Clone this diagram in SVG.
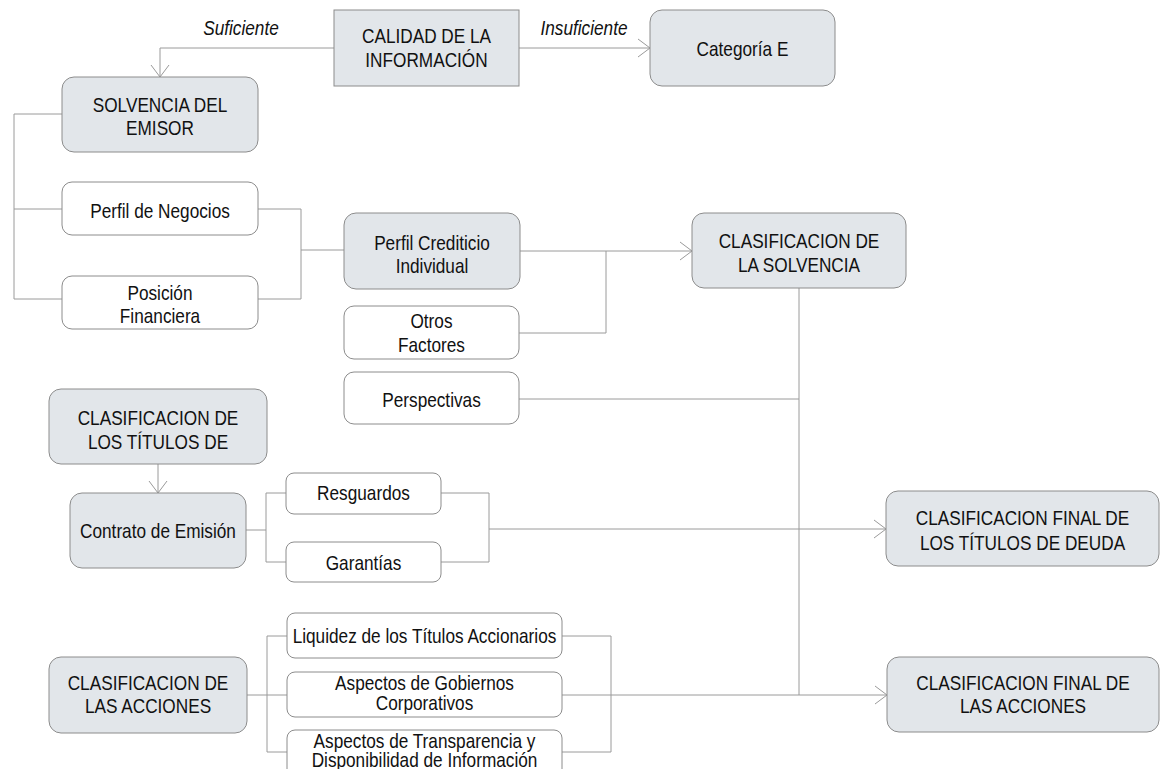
<svg xmlns="http://www.w3.org/2000/svg" width="1160" height="769" viewBox="0 0 1160 769">
<style>
.g{fill:#e2e6ea;stroke:#8c8c8c;stroke-width:1}
.w{fill:#ffffff;stroke:#8c8c8c;stroke-width:1}
.t{font-family:"Liberation Sans Narrow","Arial Narrow","Liberation Sans",sans-serif;font-size:21px;fill:#111;text-anchor:middle;transform-box:fill-box;transform-origin:center;transform:scaleX(0.82)}
.i{font-style:italic}
.c{fill:none;stroke:#9a9a9a;stroke-width:1}
</style>
<defs>
<marker id="arr" viewBox="-13 -10 14 20" markerWidth="14" markerHeight="20" refX="0" refY="0" orient="auto" markerUnits="userSpaceOnUse">
<path d="M-12,-9 L0,0 L-12,9" fill="none" stroke="#9a9a9a" stroke-width="1"/>
</marker>
</defs>
<rect width="1160" height="769" fill="#ffffff"/>
<g id="connectors">
<path class="c" d="M334,48 H160 V77" marker-end="url(#arr)"/>
<path class="c" d="M519,48 H650" marker-end="url(#arr)"/>
<path class="c" d="M62,114 H14 V299 H62 M14,209 H62"/>
<path class="c" d="M258,209 H301 V299 H258 M301,250 H344"/>
<path class="c" d="M520,251 H692" marker-end="url(#arr)"/>
<path class="c" d="M519,333 H606 V251"/>
<path class="c" d="M799,288 V695 H887" marker-end="url(#arr)"/>
<path class="c" d="M519,399 H799"/>
<path class="c" d="M158,464 V493" marker-end="url(#arr)"/>
<path class="c" d="M246,530 H266 M286,493 H266 V562 H286"/>
<path class="c" d="M441,493 H489 V562 H441"/>
<path class="c" d="M489,529 H886" marker-end="url(#arr)"/>
<path class="c" d="M247,695 H287 M287,636 H267 V752 H287"/>
<path class="c" d="M562,636 H611 V752 H562 M562,695 H799"/>
<text class="t i" x="241" y="35">Suficiente</text>
<text class="t i" x="584" y="35">Insuficiente</text>
</g>
<g id="calidad"><rect class="g" x="334" y="10" width="185" height="76"/><text class="t" x="426.5" y="43">CALIDAD DE LA</text><text class="t" x="426.5" y="67">INFORMACIÓN</text></g>
<g id="categoriaE"><rect class="g" x="650" y="10" width="185" height="76" rx="12"/><text class="t" x="742.5" y="56">Categoría E</text></g>
<g id="solvencia"><rect class="g" x="62" y="77" width="196" height="75" rx="12"/><text class="t" x="160" y="112">SOLVENCIA DEL</text><text class="t" x="160" y="135">EMISOR</text></g>
<g id="perfilNegocios"><rect class="w" x="62" y="182" width="196" height="53" rx="10"/><text class="t" x="160" y="218">Perfil de Negocios</text></g>
<g id="posicion"><rect class="w" x="62" y="276" width="196" height="53" rx="10"/><text class="t" x="160" y="300">Posición</text><text class="t" x="160" y="323">Financiera</text></g>
<g id="perfilCrediticio"><rect class="g" x="344" y="213" width="176" height="76" rx="12"/><text class="t" x="432" y="250">Perfil Crediticio</text><text class="t" x="432" y="273">Individual</text></g>
<g id="otros"><rect class="w" x="344" y="306" width="175" height="53" rx="10"/><text class="t" x="431.5" y="328">Otros</text><text class="t" x="431.5" y="352">Factores</text></g>
<g id="perspectivas"><rect class="w" x="344" y="372" width="175" height="52" rx="10"/><text class="t" x="431.5" y="407">Perspectivas</text></g>
<g id="clasifSolvencia"><rect class="g" x="692" y="213" width="214" height="75" rx="12"/><text class="t" x="799" y="248">CLASIFICACION DE</text><text class="t" x="799" y="272">LA SOLVENCIA</text></g>
<g id="clasifTitulos"><rect class="g" x="49" y="389" width="218" height="75" rx="12"/><text class="t" x="158" y="425">CLASIFICACION DE</text><text class="t" x="158" y="449">LOS TÍTULOS DE</text></g>
<g id="contrato"><rect class="g" x="70" y="493" width="176" height="75" rx="12"/><text class="t" x="158" y="538">Contrato de Emisión</text></g>
<g id="resguardos"><rect class="w" x="286" y="473" width="155" height="41" rx="8"/><text class="t" x="363.5" y="500">Resguardos</text></g>
<g id="garantias"><rect class="w" x="286" y="542" width="155" height="40" rx="8"/><text class="t" x="363.5" y="570">Garantías</text></g>
<g id="finalDeuda"><rect class="g" x="886" y="491" width="273" height="75" rx="12"/><text class="t" x="1022.5" y="525">CLASIFICACION FINAL DE</text><text class="t" x="1022.5" y="550">LOS TÍTULOS DE DEUDA</text></g>
<g id="clasifAcciones"><rect class="g" x="49" y="657" width="198" height="76" rx="12"/><text class="t" x="148" y="690">CLASIFICACION DE</text><text class="t" x="148" y="713">LAS ACCIONES</text></g>
<g id="liquidez"><rect class="w" x="287" y="613" width="275" height="45" rx="8"/><text class="t" x="424.5" y="643">Liquidez de los Títulos Accionarios</text></g>
<g id="gobiernos"><rect class="w" x="287" y="672" width="275" height="45" rx="8"/><text class="t" x="424.5" y="690">Aspectos de Gobiernos</text><text class="t" x="424.5" y="710">Corporativos</text></g>
<g id="transparencia"><rect class="w" x="287" y="730" width="275" height="50" rx="8"/><text class="t" x="424.5" y="748">Aspectos de Transparencia y</text><text class="t" x="424.5" y="767">Disponibilidad de Información</text></g>
<g id="finalAcciones"><rect class="g" x="887" y="657" width="272" height="75" rx="12"/><text class="t" x="1023" y="690">CLASIFICACION FINAL DE</text><text class="t" x="1023" y="713">LAS ACCIONES</text></g>
</svg>
